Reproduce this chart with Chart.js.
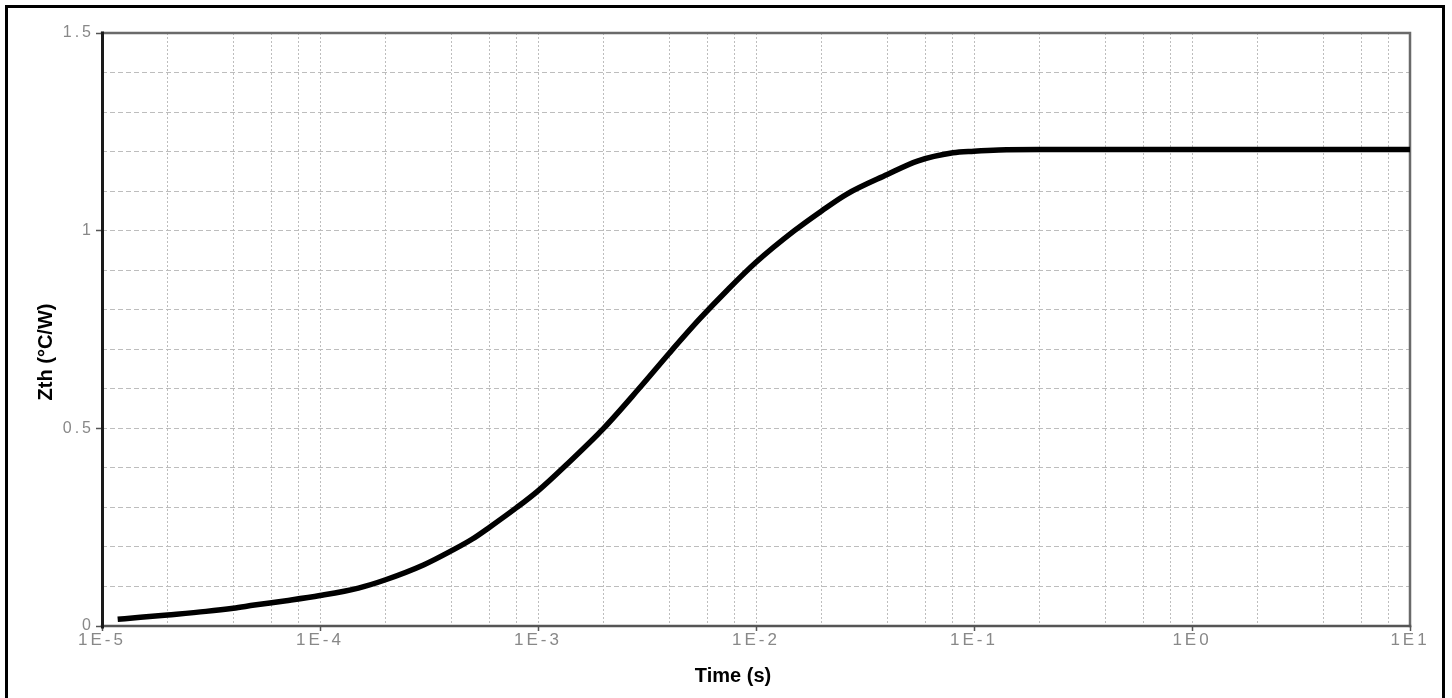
<!DOCTYPE html>
<html><head><meta charset="utf-8">
<script src="https://cdn.jsdelivr.net/npm/chart.js@4"></script>
<style>
html,body{margin:0;padding:0;background:#fff;overflow:hidden;}
#wrap{position:relative;width:1452px;height:698px;}
#frame{position:absolute;left:5px;top:5px;width:1434px;height:720px;border:3px solid #000;pointer-events:none;}
canvas{position:absolute;left:0;top:0;}
</style></head><body>
<div id="wrap"><canvas id="c" width="1452" height="698"></canvas><div id="frame"></div></div>
<script>
// ---- data ----
const timeS = [1.18e-5, 1.5e-5, 2e-5, 3e-5, 4e-5, 5e-5, 7e-5, 1e-4, 1.5e-4, 2e-4, 3e-4, 4e-4, 5e-4, 6e-4, 8e-4,
               1e-3, 1.35e-3, 2e-3, 2.9e-3, 4e-3, 5.5e-3, 7.4e-3, 1e-2, 1.5e-2, 2e-2, 2.6e-2, 4e-2, 5.5e-2, 8e-2,
               1e-1, 1.3e-1, 2e-1, 1, 10];
const zthValues = [0.017, 0.022, 0.028, 0.037, 0.045, 0.053, 0.064, 0.077, 0.096, 0.117, 0.155, 0.19, 0.22, 0.25, 0.30,
                   0.342, 0.408, 0.50, 0.60, 0.69, 0.776, 0.85, 0.92, 1.0, 1.05, 1.092, 1.142, 1.176, 1.197,
                   1.201, 1.204, 1.205, 1.205, 1.205];
const xDecades = [1e-5, 1e-4, 1e-3, 1e-2, 1e-1, 1, 10];
const xTickLabels = ['1E-5', '1E-4', '1E-3', '1E-2', '1E-1', '1E0', '1E1'];
const xMinorMultipliers = [2, 4, 6, 8];
const yLabelValues = [0, 0.5, 1, 1.5];
const yTickLabels = ['0', '0.5', '1', '1.5'];
const xTitle = 'Time (s)';
const yTitle = 'Zth (°C/W)';

// ---- build ----
const points = timeS.map((t, i) => ({x: t, y: zthValues[i]}));
const xGridTicks = [];
xDecades.forEach((d, i) => {
  xGridTicks.push(d);
  if (i < xDecades.length - 1) xMinorMultipliers.forEach(m => xGridTicks.push(d * m));
});
const decadeIndex = v => xDecades.findIndex(d => Math.abs(Math.log10(v) - Math.log10(d)) < 1e-9);
const yLabelIndex = v => yLabelValues.findIndex(d => Math.abs(v - d) < 1e-6);

const GRID = '#bdbdbd';
const TICK = '#555';
const NONE = 'rgba(0,0,0,0)';

const framePlugin = {
  id: 'frameAndTitles',
  beforeDraw(chart) { chart.ctx.letterSpacing = '3px'; },
  beforeDatasetsDraw(chart) {
    const {ctx, chartArea: a} = chart;
    ctx.save();
    ctx.letterSpacing = '0px';
    ctx.lineCap = 'square';
    ctx.strokeStyle = '#6a6a6a'; ctx.lineWidth = 2.5;
    ctx.beginPath(); ctx.moveTo(a.left, a.top); ctx.lineTo(a.right, a.top); ctx.lineTo(a.right, a.bottom); ctx.stroke();
    ctx.strokeStyle = '#555'; ctx.lineWidth = 2.5;
    ctx.beginPath(); ctx.moveTo(a.left, a.bottom); ctx.lineTo(a.right, a.bottom); ctx.stroke();
    ctx.strokeStyle = '#1a1a1a'; ctx.lineWidth = 3;
    ctx.beginPath(); ctx.moveTo(a.left + 0.5, a.top); ctx.lineTo(a.left + 0.5, a.bottom + 1); ctx.stroke();
    ctx.restore();
  },
  afterDraw(chart) {
    const ctx = chart.ctx;
    ctx.save();
    ctx.letterSpacing = '0px';
    ctx.fillStyle = '#000';
    ctx.font = 'bold 20px "Liberation Sans", Arial, sans-serif';
    ctx.textAlign = 'center';
    ctx.textBaseline = 'alphabetic';
    ctx.fillText(xTitle, 733, 682);
    ctx.translate(51.5, 352);
    ctx.rotate(-Math.PI / 2);
    ctx.fillText(yTitle, 0, 0);
    ctx.restore();
  }
};

new Chart(document.getElementById('c'), {
  type: 'line',
  data: {
    datasets: [{
      data: points,
      borderColor: '#000',
      borderWidth: 5.5,
      pointRadius: 0,
      fill: false,
      cubicInterpolationMode: 'monotone'
    }]
  },
  options: {
    responsive: false,
    animation: false,
    devicePixelRatio: 1,
    layout: {padding: {left: 0, top: 33, right: 42, bottom: 0}},
    plugins: {legend: {display: false}, tooltip: {enabled: false}},
    scales: {
      x: {
        type: 'logarithmic',
        min: 1e-5, max: 10,
        afterBuildTicks: scale => { scale.ticks = xGridTicks.map(v => ({value: v})); },
        afterFit: scale => { scale.height = 72; },
        border: {display: false, dash: [2, 2]},
        grid: {
          color: ctx => {
            const v = ctx.tick ? ctx.tick.value : 0;
            return (Math.abs(v - 1e-5) < 1e-12 || Math.abs(v - 10) < 1e-9) ? NONE : GRID;
          },
          lineWidth: 1,
          tickLength: 5,
          tickColor: ctx => (ctx.tick && decadeIndex(ctx.tick.value) >= 0) ? TICK : NONE,
          tickWidth: 1.5
        },
        ticks: {
          autoSkip: false, maxRotation: 0, minRotation: 0, padding: -1,
          color: '#888',
          font: {family: '"Liberation Sans", Arial, sans-serif', size: 17},
          callback: v => { const i = decadeIndex(v); return i >= 0 ? xTickLabels[i] : ''; }
        }
      },
      y: {
        type: 'linear',
        min: 0, max: 1.5,
        afterFit: scale => { scale.width = 102; },
        border: {display: false, dash: [5, 3]},
        grid: {
          color: ctx => {
            const v = ctx.tick ? ctx.tick.value : 0;
            return (Math.abs(v) < 1e-6 || Math.abs(v - 1.5) < 1e-6) ? NONE : GRID;
          },
          lineWidth: 1,
          tickLength: 6,
          tickColor: ctx => (ctx.tick && yLabelIndex(ctx.tick.value) >= 0) ? TICK : NONE,
          tickWidth: 1.5
        },
        ticks: {
          stepSize: 0.1, autoSkip: false, padding: 2,
          color: '#888',
          font: {family: '"Liberation Sans", Arial, sans-serif', size: 16},
          callback: v => { const i = yLabelIndex(v); return i >= 0 ? yTickLabels[i] : ''; }
        }
      }
    }
  },
  plugins: [framePlugin]
});
</script>
</body></html>
